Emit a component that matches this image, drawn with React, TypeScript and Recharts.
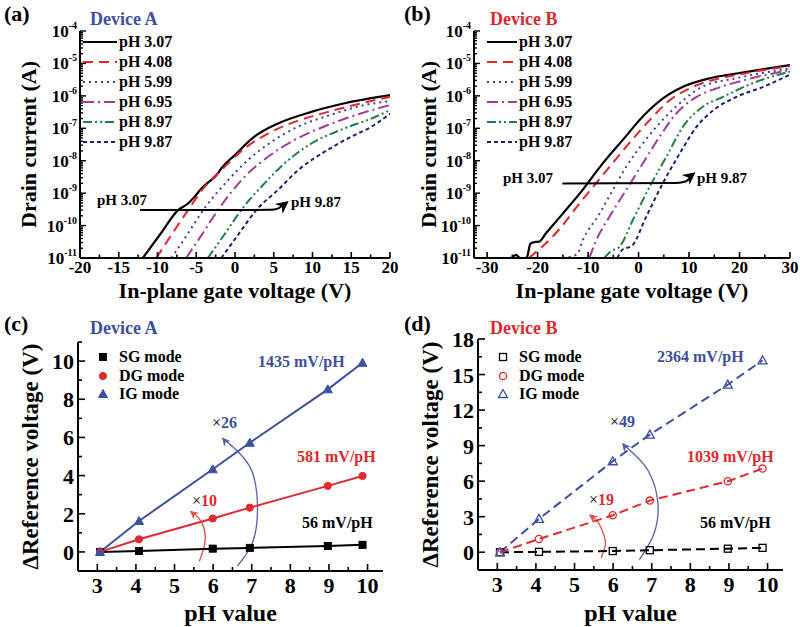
import React from 'react';
import { LineChart, Line, XAxis, YAxis, Legend, ReferenceDot } from 'recharts';

const FONT = '"Liberation Serif","Times New Roman",Times,serif';

// ---------- Panel (a)/(b): transfer curves, pairs of [gate voltage (V), drain current (A)]
const pHLabels = ['pH 3.07', 'pH 4.08', 'pH 5.99', 'pH 6.95', 'pH 8.97', 'pH 9.87'];
const pHColors = ['#000000', '#e3262d', '#40409f', '#a23a98', '#1f7f45', '#1e2070'];
const pHDashes = ['', '10 6', '2 4', '11 4 2 4', '9 3 2 3 2 3', '4 3'];

const devA_307: [number, number][] = [[-11.9, 1e-11], [-9.6, 5.6e-11], [-7.35, 3.0e-10], [-6.06, 4.8e-10], [-5.2, 7.8e-10], [-4.35, 1.38e-9], [-2.2, 4.1e-9], [-1.77, 5.8e-9], [-0.04, 1.48e-8], [2.5, 5.5e-8], [5.55, 1.41e-7], [9.85, 3.2e-7], [14.15, 5.9e-7], [20, 1.05e-6]];
const devA_408: [number, number][] = [[-10.15, 1e-11], [-8.1, 5.6e-11], [-6.06, 3.0e-10], [-3.9, 1.58e-9], [-1.77, 5.1e-9], [1.25, 2.4e-8], [4.26, 6.9e-8], [7.7, 1.58e-7], [12, 3.2e-7], [16.3, 5.9e-7], [20, 9.3e-7]];
const devA_599: [number, number][] = [[-8.2, 1e-11], [-6.1, 5.6e-11], [-4.1, 3.0e-10], [-0.9, 2.5e-9], [1.68, 1.05e-8], [4.7, 3.8e-8], [8.13, 1.12e-7], [12.4, 2.6e-7], [16.7, 5.2e-7], [20, 6.8e-7]];
const devA_695: [number, number][] = [[-6.3, 1e-11], [-4.2, 5.6e-11], [-2.2, 3.0e-10], [1.25, 3.2e-9], [4.26, 1.32e-8], [7.7, 4.4e-8], [12, 1.26e-7], [16.3, 2.9e-7], [20, 5.2e-7]];
const devA_897: [number, number][] = [[-3.5, 1e-11], [-1.3, 5.6e-11], [0.8, 3.0e-10], [3.8, 2.0e-9], [6.4, 8.3e-9], [9.85, 3.4e-8], [14.15, 1.0e-7], [17.6, 2.0e-7], [20, 3.6e-7]];
const devA_987: [number, number][] = [[-1.77, 1e-11], [0.5, 5.6e-11], [2.75, 3.0e-10], [5.55, 1.26e-9], [8.13, 5.1e-9], [11.57, 1.9e-8], [15, 5.5e-8], [17.6, 1.12e-7], [20, 2.8e-7]];

const devB_307: [number, number][] = [[-32.5, 1e-11], [-25.3, 1e-11], [-24.3, 1.25e-11], [-23.4, 1e-11], [-22.2, 1e-11], [-21.4, 2.8e-11], [-20.6, 3.1e-11], [-19.7, 3.2e-11], [-18.35, 5.8e-11], [-15.05, 2.3e-10], [-11.07, 1.26e-9], [-7.1, 8.3e-9], [-3.12, 4.4e-8], [0.85, 2.3e-7], [4.83, 8.3e-7], [8.8, 1.9e-6], [14.1, 3.5e-6], [19.4, 4.9e-6], [30, 8.9e-6]];
const devB_408: [number, number][] = [[-21.7, 1e-11], [-16.4, 5.8e-11], [-11.7, 4.8e-10], [-7.1, 3.6e-9], [-2.45, 2.7e-8], [2.2, 1.78e-7], [6.2, 7.4e-7], [10.1, 1.7e-6], [14.8, 3.1e-6], [19.4, 4.4e-6], [30, 8.3e-6]];
const devB_599: [number, number][] = [[-15.0, 1e-11], [-12.2, 1.3e-11], [-11.07, 3.5e-11], [-7.75, 2.3e-10], [-5.1, 1.26e-9], [-2.45, 6.5e-9], [1.4, 4.4e-8], [5.4, 2.3e-7], [9.3, 8.3e-7], [12.6, 1.9e-6], [19.4, 3.5e-6], [30, 7.1e-6]];
const devB_695: [number, number][] = [[-9.75, 1e-11], [-8.4, 3.5e-11], [-5.77, 1.86e-10], [-2.45, 1.26e-9], [0.85, 8.3e-9], [4.17, 5.5e-8], [7.5, 2.9e-7], [11.5, 9.3e-7], [15.45, 1.7e-6], [21.1, 3.1e-6], [30, 6.3e-6]];
const devB_897: [number, number][] = [[-6.8, 1e-11], [-5.5, 1.6e-11], [-3.8, 2.2e-11], [-1.13, 1.48e-10], [2.2, 1.58e-9], [5.5, 1.32e-8], [8.8, 1.12e-7], [12.7, 4.6e-7], [16.7, 9.3e-7], [22.6, 2.45e-6], [30, 5.6e-6]];
const devB_987: [number, number][] = [[-4.2, 1e-11], [-3.2, 1.8e-11], [-1.3, 2.4e-11], [1.5, 1.86e-10], [4.8, 2.0e-9], [8.15, 1.66e-8], [11.5, 1.12e-7], [14.8, 3.6e-7], [19.4, 9.3e-7], [24.7, 1.9e-6], [30, 4.5e-6]];

// annotation arrows (pH 3.07 -> pH 9.87)
const arrowA: [number, number][] = [[-12.25, 3.0e-10], [4.6, 3.05e-10], [5.6, 3.4e-10], [6.2, 4.3e-10]];
const arrowAHead: [number, number] = [6.8, 5.4e-10];
const arrowB: [number, number][] = [[-15.1, 2.0e-9], [7.0, 2.05e-9], [9.3, 2.3e-9], [10.4, 3.2e-9]];
const arrowBHead: [number, number] = [11.1, 4.2e-9];

// ---------- Panel (c)/(d): reference voltage shift vs pH
const pHValues = [3.07, 4.08, 5.99, 6.95, 8.97, 9.87];
const devA_SG = [0, 0.05, 0.17, 0.21, 0.31, 0.37];
const devA_DG = [0, 0.66, 1.75, 2.32, 3.46, 3.98];
const devA_IG = [0, 1.62, 4.33, 5.72, 8.52, 9.91];
const devB_SG = [0, 0.03, 0.1, 0.17, 0.3, 0.37];
const devB_DG = [0, 1.12, 3.12, 4.36, 5.99, 7.06];
const devB_IG = [0, 2.81, 7.68, 9.93, 14.15, 16.2];
const modeLabels = ['SG mode', 'DG mode', 'IG mode'];
const modeColors = ['#000000', '#e3292d', '#3d4fa3'];

// curved amplification arrows [pH, V]
const arcA_DG: [number, number][] = [[5.64, -0.5], [5.78, 0.4], [5.77, 1.2], [5.62, 1.8], [5.42, 2.12]];
const arcA_IG: [number, number][] = [[6.63, -0.73], [7.02, 0.49], [7.15, 2.3], [7.02, 4.15], [6.67, 5.2], [6.25, 5.95]];
const arcB_DG: [number, number][] = [[5.69, -0.48], [5.8, 0.6], [5.77, 1.35], [5.62, 2.47], [5.4, 3.15]];
const arcB_IG: [number, number][] = [[6.68, -0.62], [7.05, 1.5], [7.16, 4.16], [6.94, 6.69], [6.6, 8.1], [6.25, 9.15]];

const pts = (a: [number, number][]) => a.map(([x, y]) => ({ x, y }));
const zipPts = (xs: number[], ys: number[]) => xs.map((x, i) => ({ x, y: ys[i] }));

const devACurves = [devA_307, devA_408, devA_599, devA_695, devA_897, devA_987];
const devBCurves = [devB_307, devB_408, devB_599, devB_695, devB_897, devB_987];

// ---------- ticks
const logMajor = [1e-11, 1e-10, 1e-9, 1e-8, 1e-7, 1e-6, 1e-5, 1e-4];
const logTicks: number[] = [];
logMajor.forEach((m, i) => {
  logTicks.push(m);
  if (i < logMajor.length - 1) for (let k = 2; k <= 9; k++) logTicks.push(k * m);
});
const xTicksA = [-20, -17.5, -15, -12.5, -10, -7.5, -5, -2.5, 0, 2.5, 5, 7.5, 10, 12.5, 15, 17.5, 20];
const xMajorA = [-20, -15, -10, -5, 0, 5, 10, 15, 20];
const xTicksB = [-30, -25, -20, -15, -10, -5, 0, 5, 10, 15, 20, 25, 30];
const xMajorB = [-30, -20, -10, 0, 10, 20, 30];
const xTicksC = [3, 3.5, 4, 4.5, 5, 5.5, 6, 6.5, 7, 7.5, 8, 8.5, 9, 9.5, 10];
const xMajorC = [3, 4, 5, 6, 7, 8, 9, 10];
const yTicksC = [-1, 0, 1, 2, 3, 4, 5, 6, 7, 8, 9, 10, 11];
const yMajorC = [0, 2, 4, 6, 8, 10];
const yTicksD = [0, 1.5, 3, 4.5, 6, 7.5, 9, 10.5, 12, 13.5, 15, 16.5, 18];
const yMajorD = [0, 3, 6, 9, 12, 15, 18];

const TM = 4;
const near = (arr: number[], v: number) => arr.some((m) => Math.abs(m - v) < 1e-9);

function makeXTick(majors: number[], fontSize: number, majLen: number, minLen: number, labelDy: number) {
  return (props: any) => {
    const { x, y, payload } = props;
    const v = payload.value;
    const isMajor = near(majors, v);
    const ay = y - TM;
    return (
      <g>
        <line x1={x} x2={x} y1={ay} y2={ay - (isMajor ? majLen : minLen)} stroke="#000" strokeWidth={1.6} />
        {isMajor && (
          <text x={x} y={ay + labelDy} textAnchor="middle" fontFamily={FONT} fontWeight="bold" fontSize={fontSize} fill="#000">
            {String(v)}
          </text>
        )}
      </g>
    );
  };
}

function makeYTick(majors: number[], fontSize: number, majLen: number, minLen: number, labelDy: number) {
  return (props: any) => {
    const { x, y, payload } = props;
    const v = payload.value;
    const isMajor = near(majors, v);
    const ax = x + TM;
    return (
      <g>
        <line x1={ax} x2={ax + (isMajor ? majLen : minLen)} y1={y} y2={y} stroke="#000" strokeWidth={1.6} />
        {isMajor && (
          <text x={ax - 4} y={y + labelDy} textAnchor="end" fontFamily={FONT} fontWeight="bold" fontSize={fontSize} fill="#000">
            {String(v)}
          </text>
        )}
      </g>
    );
  };
}

const LogYTick = (props: any) => {
  const { x, y, payload } = props;
  const v = payload.value;
  const lg = Math.log10(v);
  const e = Math.round(lg);
  const isMajor = Math.abs(lg - e) < 1e-6;
  const ax = x + TM;
  return (
    <g>
      <line x1={ax} x2={ax + (isMajor ? 6 : 3)} y1={y} y2={y} stroke="#000" strokeWidth={1.4} />
      {isMajor && (
        <text x={ax - 3} y={y + 6} textAnchor="end" fontFamily={FONT} fontWeight="bold" fontSize={17} fill="#000">
          <tspan>10</tspan>
          <tspan dy={-8} fontSize={10}>{String(e)}</tspan>
        </text>
      )}
    </g>
  );
};

// ---------- helpers
const Txt = ({ x, y, size = 16, color = '#000', children }: any) => (
  <div
    style={{
      position: 'absolute', left: x, top: y, transform: 'translateY(-50%)', fontFamily: FONT,
      fontWeight: 'bold', fontSize: size, color, lineHeight: 1, whiteSpace: 'nowrap',
    }}
  >
    {children}
  </div>
);

const arrowShape = (angle: number, size: number, color: string) => (p: any) => (
  <path
    d={`M0,0 L${-size},${-size * 0.5} L${-size * 0.7},0 L${-size},${size * 0.5} Z`}
    transform={`translate(${p.cx},${p.cy}) rotate(${angle})`}
    fill={color}
    stroke={color}
    strokeWidth={1}
  />
);

const LineLegend = ({ lineW }: { lineW: number }) => (
  <div style={{ fontFamily: FONT, fontWeight: 'bold', fontSize: 16, color: '#000' }}>
    {pHLabels.map((name, i) => (
      <div key={name} style={{ display: 'flex', alignItems: 'center', height: 20 }}>
        <svg width={lineW} height={10}>
          <line x1={0} x2={lineW} y1={5} y2={5} stroke={pHColors[i]} strokeWidth={2} strokeDasharray={pHDashes[i]} />
        </svg>
        <span style={{ marginLeft: 2 }}>{name}</span>
      </div>
    ))}
  </div>
);

const Marker = ({ kind, cx, cy, color, open }: any) => {
  const fill = open ? 'none' : color;
  const sw = open ? 1.3 : 1;
  if (kind === 0) return <rect x={cx - 3.5} y={cy - 3.5} width={7} height={7} fill={fill} stroke={color} strokeWidth={sw} />;
  if (kind === 1) return <circle cx={cx} cy={cy} r={3.6} fill={fill} stroke={color} strokeWidth={sw} />;
  return <path d={`M${cx},${cy - 4.5} L${cx + 4.5},${cy + 3.5} L${cx - 4.5},${cy + 3.5} Z`} fill={fill} stroke={color} strokeWidth={sw} />;
};

const MarkerLegend = ({ open }: { open: boolean }) => (
  <div style={{ fontFamily: FONT, fontWeight: 'bold', fontSize: 16, color: '#000' }}>
    {modeLabels.map((name, i) => (
      <div key={name} style={{ display: 'flex', alignItems: 'center', height: 18.5 }}>
        <svg width={14} height={12}>
          <Marker kind={i} cx={7} cy={6} color={modeColors[i]} open={open} />
        </svg>
        <span style={{ marginLeft: 9 }}>{name}</span>
      </div>
    ))}
  </div>
);

const axisLine = { stroke: '#000', strokeWidth: 2 };

// ---------- panels
function TransferPanel({ curves, domainX, ticks, majors, yW, arrow, head, legendLeft }: any) {
  return (
    <LineChart width={400} height={310} margin={{ top: 31, right: 10, bottom: 0, left: 0 }}>
      <XAxis
        type="number" dataKey="x" domain={domainX} ticks={ticks} interval={0} allowDataOverflow
        tickSize={0} tickMargin={TM} tickLine={false} axisLine={axisLine} height={52}
        tick={makeXTick(majors, 17, 6, 3.5, 15)}
        label={{ value: 'In-plane gate voltage (V)', position: 'insideBottom', offset: 12, style: { fontFamily: FONT, fontWeight: 'bold', fontSize: 22, fill: '#000' } }}
      />
      <XAxis xAxisId="top" orientation="top" type="number" domain={domainX} tick={false} tickLine={false} axisLine={axisLine} height={0} />
      <YAxis
        type="number" scale="log" domain={[1e-11, 1e-4]} ticks={logTicks} interval={0} allowDataOverflow
        tickSize={0} tickMargin={TM} tickLine={false} axisLine={axisLine} width={yW}
        tick={LogYTick}
        label={{ value: 'Drain current (A)', angle: -90, position: 'insideLeft', offset: 28, style: { fontFamily: FONT, fontWeight: 'bold', fontSize: 22, fill: '#000', textAnchor: 'middle' } }}
      />
      <YAxis yAxisId="right" orientation="right" type="number" domain={[0, 1]} tick={false} tickLine={false} axisLine={axisLine} width={0} />
      {curves.map((c: [number, number][], i: number) => (
        <Line
          key={pHLabels[i]} name={pHLabels[i]} data={pts(c)} dataKey="y" type="monotone"
          stroke={pHColors[i]} strokeWidth={i === 0 ? 2.2 : 2} strokeDasharray={pHDashes[i]}
          dot={false} activeDot={false} isAnimationActive={false}
        />
      ))}
      <Line name="arrow" data={pts(arrow)} dataKey="y" type="monotone" stroke="#000" strokeWidth={2} dot={false} activeDot={false} legendType="none" isAnimationActive={false} />
      <ReferenceDot x={head[0]} y={head[1]} r={0} shape={arrowShape(-38, 10, '#000')} />
      <Legend layout="vertical" align="center" verticalAlign="middle" wrapperStyle={{ left: legendLeft, top: 32, width: 'auto' }} content={() => <LineLegend lineW={legendLeft === 83 ? 34 : 30} />} />
    </LineChart>
  );
}

function ShiftPanel({ sg, dg, ig, open, yDomain, yTicks, yMajor, top, bottomH, arcDG, arcIG }: any) {
  const series = [sg, dg, ig];
  const dash = open ? '9 5' : undefined;
  return (
    <LineChart width={400} height={317} margin={{ top, right: 17, bottom: 0, left: 0 }}>
      <XAxis
        type="number" dataKey="x" domain={[2.5, 10.4]} ticks={xTicksC} interval={0} allowDataOverflow
        tickSize={0} tickMargin={TM} tickLine={false} axisLine={axisLine} height={bottomH}
        tick={makeXTick(xMajorC, 22, 7, 4, 22)}
        label={{ value: 'pH value', position: 'insideBottom', offset: 6, style: { fontFamily: FONT, fontWeight: 'bold', fontSize: 24, fill: '#000' } }}
      />
      <XAxis xAxisId="top" orientation="top" type="number" domain={[2.5, 10.4]} tick={false} tickLine={false} axisLine={axisLine} height={0} />
      <YAxis
        type="number" domain={yDomain} ticks={yTicks} interval={0} allowDataOverflow
        tickSize={0} tickMargin={TM} tickLine={false} axisLine={axisLine} width={78}
        tick={makeYTick(yMajor, 22, 7, 4, 8)}
        label={{ value: '\u0394Reference voltage (V)', angle: -90, position: 'insideLeft', offset: 30, style: { fontFamily: FONT, fontWeight: 'bold', fontSize: 23, fill: '#000', textAnchor: 'middle' } }}
      />
      <YAxis yAxisId="right" orientation="right" type="number" domain={[0, 1]} tick={false} tickLine={false} axisLine={axisLine} width={0} />
      <Line data={pts(arcDG)} dataKey="y" type="natural" stroke="#e0504a" strokeWidth={1.3} dot={false} activeDot={false} legendType="none" isAnimationActive={false} />
      <Line data={pts(arcIG)} dataKey="y" type="natural" stroke="#5462a8" strokeWidth={1.3} dot={false} activeDot={false} legendType="none" isAnimationActive={false} />
      {series.map((ys: number[], i: number) => (
        <Line
          key={modeLabels[i]} name={modeLabels[i]} data={zipPts(pHValues, ys)} dataKey="y" type="linear"
          stroke={modeColors[i]} strokeWidth={2} strokeDasharray={dash}
          dot={(p: any) => <Marker key={`${i}-${p.index}`} kind={i} cx={p.cx} cy={p.cy} color={modeColors[i]} open={open} />}
          activeDot={false} isAnimationActive={false}
        />
      ))}
      <ReferenceDot x={arcDG[arcDG.length - 1][0]} y={arcDG[arcDG.length - 1][1]} r={0} shape={arrowShape(-140, 6, '#e0504a')} />
      <ReferenceDot x={arcIG[arcIG.length - 1][0]} y={arcIG[arcIG.length - 1][1]} r={0} shape={arrowShape(-130, 6, '#5462a8')} />
      <Legend layout="vertical" align="center" verticalAlign="middle" wrapperStyle={{ left: 96, top: 38, width: 'auto' }} content={() => <MarkerLegend open={open} />} />
    </LineChart>
  );
}

export default function App() {
  const blue = '#3d4fa3';
  const red = '#e0282c';
  return (
    <div style={{ position: 'absolute', left: 0, top: 0, width: 800, height: 627, background: '#fff', overflow: 'hidden' }}>
      <div style={{ position: 'absolute', left: 0, top: 0 }}>
        <TransferPanel curves={devACurves} domainX={[-20, 20]} ticks={xTicksA} majors={xMajorA} yW={80} arrow={arrowA} head={arrowAHead} legendLeft={83} />
      </div>
      <div style={{ position: 'absolute', left: 400, top: 0 }}>
        <TransferPanel curves={devBCurves} domainX={[-32.6, 30]} ticks={xTicksB} majors={xMajorB} yW={74} arrow={arrowB} head={arrowBHead} legendLeft={87} />
      </div>
      <div style={{ position: 'absolute', left: 0, top: 310 }}>
        <ShiftPanel sg={devA_SG} dg={devA_DG} ig={devA_IG} open={false} yDomain={[-1, 11]} yTicks={yTicksC} yMajor={yMajorC} top={32} bottomH={56} arcDG={arcA_DG} arcIG={arcA_IG} />
      </div>
      <div style={{ position: 'absolute', left: 400, top: 310 }}>
        <ShiftPanel sg={devB_SG} dg={devB_DG} ig={devB_IG} open={true} yDomain={[-1.5, 18]} yTicks={yTicksD} yMajor={yMajorD} top={29} bottomH={57} arcDG={arcB_DG} arcIG={arcB_IG} />
      </div>

      {/* panel letters and device titles */}
      <Txt x={4} y={14} size={22}>(a)</Txt>
      <Txt x={90} y={19} size={18} color={blue}>Device A</Txt>
      <Txt x={404} y={14} size={22}>(b)</Txt>
      <Txt x={490} y={19} size={18} color={red}>Device B</Txt>
      <Txt x={4} y={324} size={22}>(c)</Txt>
      <Txt x={90} y={328} size={18} color={blue}>Device A</Txt>
      <Txt x={404} y={324} size={22}>(d)</Txt>
      <Txt x={490} y={328} size={18} color={red}>Device B</Txt>

      {/* (a),(b) arrow labels */}
      <Txt x={97} y={200} size={15}>pH 3.07</Txt>
      <Txt x={291} y={202} size={15}>pH 9.87</Txt>
      <Txt x={503} y={178} size={15}>pH 3.07</Txt>
      <Txt x={697} y={178} size={15}>pH 9.87</Txt>

      {/* (c) annotations */}
      <Txt x={258} y={362} size={16} color={blue}>1435 mV/pH</Txt>
      <Txt x={297} y={457} size={16} color={red}>581 mV/pH</Txt>
      <Txt x={302} y={523} size={16}>56 mV/pH</Txt>
      <Txt x={212} y={423} size={16}><span style={{ fontWeight: 'normal' }}>×</span><span style={{ color: blue }}>26</span></Txt>
      <Txt x={192} y={501} size={16}><span style={{ fontWeight: 'normal' }}>×</span><span style={{ color: red }}>10</span></Txt>

      {/* (d) annotations */}
      <Txt x={657} y={357} size={16} color={blue}>2364 mV/pH</Txt>
      <Txt x={687} y={457} size={16} color={red}>1039 mV/pH</Txt>
      <Txt x={700} y={523} size={16}>56 mV/pH</Txt>
      <Txt x={610} y={422} size={16}><span style={{ fontWeight: 'normal' }}>×</span><span style={{ color: blue }}>49</span></Txt>
      <Txt x={589} y={500} size={16}><span style={{ fontWeight: 'normal' }}>×</span><span style={{ color: red }}>19</span></Txt>
    </div>
  );
}
